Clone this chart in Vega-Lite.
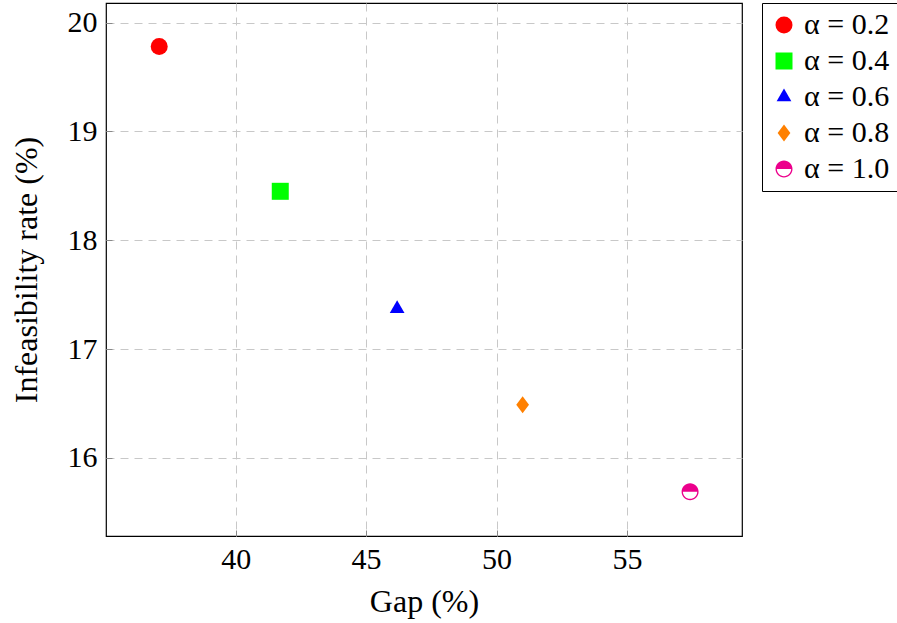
{
  "$schema": "https://vega.github.io/schema/vega-lite/v6.json",
  "autosize": {"type": "none"},
  "width": 636,
  "height": 533,
  "padding": {"left": 106, "top": 3, "right": 155, "bottom": 87},
  "background": "white",
  "config": {
    "font": "Times New Roman, Liberation Serif, DejaVu Serif, serif",
    "view": {"stroke": "black", "strokeWidth": 1.2},
    "axis": {
      "domain": false,
      "grid": true,
      "gridColor": "#c8c8c8",
      "gridDash": [8, 6],
      "gridWidth": 1,
      "tickColor": "#888888",
      "tickSize": -6,
      "labelFont": "Times New Roman, Liberation Serif, DejaVu Serif, serif",
      "labelFontSize": 30,
      "labelColor": "black",
      "titleFont": "Times New Roman, Liberation Serif, DejaVu Serif, serif",
      "titleFontSize": 32,
      "titleFontWeight": "normal",
      "titleColor": "black"
    },
    "legend": {
      "labelFont": "Times New Roman, Liberation Serif, DejaVu Serif, serif",
      "labelFontSize": 30,
      "labelColor": "black"
    }
  },
  "data": {
    "values": [
      {"gap": 37.07, "infeas": 19.78, "label": "α = 0.2"},
      {"gap": 41.71, "infeas": 18.45, "label": "α = 0.4"},
      {"gap": 46.19, "infeas": 17.37, "label": "α = 0.6"},
      {"gap": 51.0, "infeas": 16.49, "label": "α = 0.8"},
      {"gap": 57.42, "infeas": 15.69, "label": "α = 1.0"}
    ]
  },
  "mark": {"type": "point", "filled": true, "opacity": 1, "size": 289, "strokeWidth": 0},
  "encoding": {
    "x": {
      "field": "gap", "type": "quantitative",
      "scale": {"domain": [35.03, 59.41], "nice": false, "zero": false},
      "axis": {"values": [40, 45, 50, 55], "title": "Gap (%)", "labelPadding": 14, "titlePadding": 12}
    },
    "y": {
      "field": "infeas", "type": "quantitative",
      "scale": {"domain": [15.283, 20.18], "nice": false, "zero": false},
      "axis": {"values": [16, 17, 18, 19, 20], "title": "Infeasibility rate (%)", "labelPadding": 15, "titlePadding": 24}
    },
    "color": {
      "field": "label", "type": "nominal",
      "scale": {
        "domain": ["α = 0.2", "α = 0.4", "α = 0.6", "α = 0.8", "α = 1.0"],
        "range": ["#ff0000", "#00ff00", "#0000ff", "#ff8000", "#ec008c"]
      },
      "legend": {
        "title": null,
        "orient": "right",
        "offset": 20,
        "padding": 7,
        "strokeColor": "black",
        "rowPadding": 6,
        "labelOffset": 5,
        "symbolStrokeWidth": 0,
        "symbolSize": 289
      }
    },
    "shape": {
      "field": "label", "type": "nominal",
      "scale": {
        "domain": ["α = 0.2", "α = 0.4", "α = 0.6", "α = 0.8", "α = 1.0"],
        "range": [
          "circle",
          "square",
          "M 0 -1 L 0.866 0.5 L -0.866 0.5 Z",
          "M 0 -1 L 0.75 0 L 0 1 L -0.75 0 Z",
          "M -1 0 A 1 1 0 0 1 1 0 Z M -1 0 A 1 1 0 0 0 1 0 L 0.84 0 A 0.84 0.84 0 0 1 -0.84 0 Z"
        ]
      }
    }
  }
}
